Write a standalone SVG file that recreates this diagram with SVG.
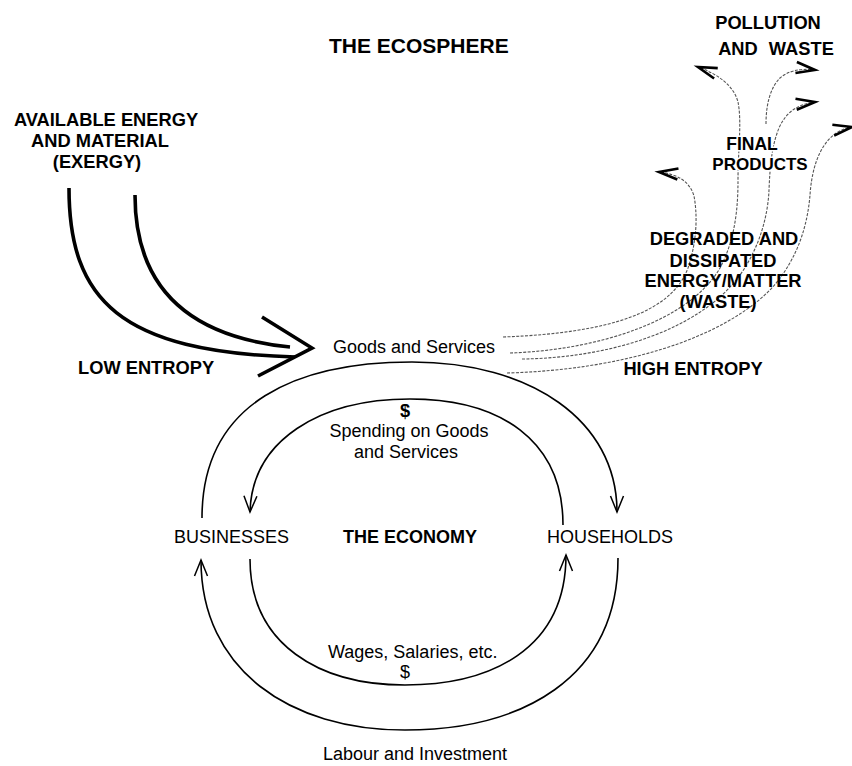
<svg xmlns="http://www.w3.org/2000/svg" width="852" height="766" viewBox="0 0 852 766">
  <defs>
    <style>
      text { font-family: "Liberation Sans", Arial, Helvetica, sans-serif; fill: #000; }
      .r { font-size: 18px; }
      .b { font-size: 18.3px; font-weight: bold; }
      .m { text-anchor: middle; }
      .halo { stroke: #fff; stroke-width: 3px; paint-order: stroke; stroke-linejoin: round; }
      .loop { fill: none; stroke: #000; stroke-width: 1.6; }
      .thick { fill: none; stroke: #000; stroke-width: 3.6; }
      .waste { fill: none; stroke: #555; stroke-width: 1.1; stroke-dasharray: 3 1.4; }
    </style>
    <marker id="arrowLoop" markerUnits="userSpaceOnUse" markerWidth="20" markerHeight="20" refX="0" refY="0" orient="auto" overflow="visible">
      <path d="M-16,-6.5 L0,0 L-16,6.5" fill="none" stroke="#000" stroke-width="1.5"/>
    </marker>
    <marker id="arrowWaste" markerUnits="userSpaceOnUse" markerWidth="24" markerHeight="24" refX="0" refY="0" orient="auto" overflow="visible">
      <path d="M-19,-5.5 L0,0 L-19,5.5" fill="none" stroke="#000" stroke-width="2.6"/>
    </marker>
  </defs>
  <rect width="852" height="766" fill="#fff"/>

  <g id="connectors">
    <!-- low entropy input -->
    <path class="thick" d="M69,188 C69,300 120,352 295,357"/>
    <path class="thick" d="M135,195 C135,270 170,335 290,347"/>
    <polyline class="thick" points="262,317 312,348 258,376" stroke-linejoin="miter"/>
    <!-- economy loops -->
    <path class="loop" d="M202,518 C202,400 300,362 412,362 C530,362 617,420 617,512" marker-end="url(#arrowLoop)"/>
    <path class="loop" d="M563,525 C563,440 500,399 410,399 C320,399 252,440 250,512" marker-end="url(#arrowLoop)"/>
    <path class="loop" d="M618,558 C618,680 520,730 405,730 C290,730 201,670 201,560" marker-end="url(#arrowLoop)"/>
    <path class="loop" d="M250,559 C250,645 320,685 405,685 C490,685 566,650 566,555" marker-end="url(#arrowLoop)"/>
    <!-- high entropy output -->
    <path class="waste" d="M503,337 C610,333 672,312 688,268 C698,238 697,212 694,196 C690,182 678,174 659,172" marker-end="url(#arrowWaste)"/>
    <path class="waste" d="M510,353 C600,350 690,320 720,268 C736,238 738,205 738,180 C738,150 742,122 738,102 C734,86 718,74 698,67" marker-end="url(#arrowWaste)"/>
    <path class="waste" d="M522,359 C610,358 700,330 740,275 C760,247 768,215 769,190 C770,165 772,145 779,128 C786,112 798,104 815,102" marker-end="url(#arrowWaste)"/>
    <path class="waste" d="M766,124 C766,105 770,88 780,78 C788,71 800,68 815,70" marker-end="url(#arrowWaste)"/>
    <path class="waste" d="M507,373 C620,370 720,340 770,290 C800,258 808,220 810,195 C812,165 822,132 852,127" marker-end="url(#arrowWaste)"/>
  </g>

  <g id="title">
    <text x="329" y="53" style="font-size:21px;font-weight:bold">THE ECOSPHERE</text>
  </g>

  <g id="node-exergy">
    <text class="b m" x="106" y="126">AVAILABLE ENERGY</text>
    <text class="b m" x="100" y="147">AND MATERIAL</text>
    <text class="b m" x="97" y="168">(EXERGY)</text>
  </g>

  <g id="label-low-entropy">
    <text class="b" x="78" y="374">LOW ENTROPY</text>
  </g>

  <g id="node-goods">
    <text class="r" x="333" y="353">Goods and Services</text>
  </g>

  <g id="label-spending">
    <text class="b m" x="405" y="417">$</text>
    <text class="r m" x="409" y="437">Spending on Goods</text>
    <text class="r m" x="406" y="458">and Services</text>
  </g>

  <g id="node-businesses">
    <text class="r" x="174" y="543">BUSINESSES</text>
  </g>

  <g id="node-economy">
    <text class="b" x="343" y="543" style="font-size:18px">THE ECONOMY</text>
  </g>

  <g id="node-households">
    <text class="r" x="547" y="543">HOUSEHOLDS</text>
  </g>

  <g id="label-wages">
    <text class="r" x="328" y="658">Wages, Salaries, etc.</text>
    <text class="r m" x="405" y="678">$</text>
  </g>

  <g id="label-labour">
    <text class="r" x="323" y="760">Labour and Investment</text>
  </g>

  <g id="node-pollution">
    <text class="b m" x="768" y="29">POLLUTION</text>
    <text class="b m" x="776" y="55" word-spacing="6">AND WASTE</text>
  </g>

  <g id="node-final-products">
    <text class="b m halo" x="752" y="150" style="font-size:17.5px">FINAL</text>
    <text class="b m halo" x="760" y="170" style="font-size:17px">PRODUCTS</text>
  </g>

  <g id="node-degraded">
    <text class="b m" x="724" y="245">DEGRADED AND</text>
    <text class="b m" x="723" y="267">DISSIPATED</text>
    <text class="b m" x="723" y="287">ENERGY/MATTER</text>
    <text class="b m" x="718" y="308">(WASTE)</text>
  </g>

  <g id="label-high-entropy">
    <text class="b m" x="693" y="375">HIGH ENTROPY</text>
  </g>
</svg>
